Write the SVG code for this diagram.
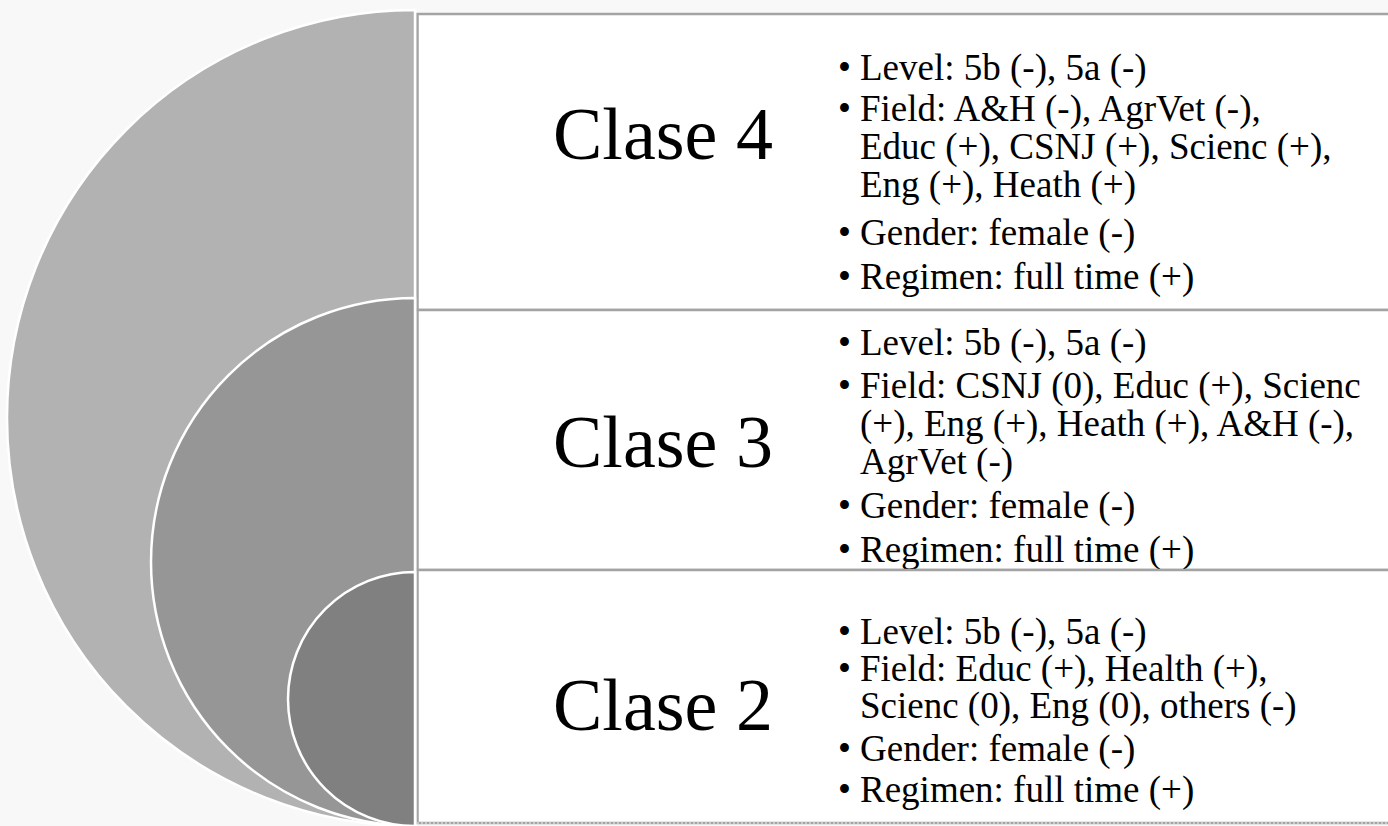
<svg xmlns="http://www.w3.org/2000/svg" width="1388" height="826" viewBox="0 0 1388 826">
<style>
.arc{stroke:#ffffff;stroke-width:2.5}
.box{fill:#ffffff;stroke:#a3a3a3;stroke-width:2.5}
.title{font-family:"Liberation Serif","Times New Roman",serif;font-size:74px;fill:#000}
.b{font-family:"Liberation Serif","Times New Roman",serif;font-size:37px;fill:#000}
</style>
<rect x="0" y="0" width="1388" height="826" fill="#f8f8f8"/>
<g id="row4">
<rect class="box" x="417.5" y="14" width="980" height="296"/>
<text class="title" x="553" y="159">Clase 4</text>
<text class="b">
<tspan x="838" y="80">•</tspan><tspan x="860" y="80">Level: 5b (-), 5a (-)</tspan>
<tspan x="838" y="121">•</tspan><tspan x="860" y="121">Field: A&amp;H (-), AgrVet (-),</tspan>
<tspan x="860" y="159">Educ (+), CSNJ (+), Scienc (+),</tspan>
<tspan x="860" y="197">Eng (+), Heath (+)</tspan>
<tspan x="838" y="245">•</tspan><tspan x="860" y="245">Gender: female (-)</tspan>
<tspan x="838" y="289">•</tspan><tspan x="860" y="289">Regimen: full time (+)</tspan>
</text>
</g>
<g id="row3">
<rect class="box" x="417.5" y="310" width="980" height="260"/>
<text class="title" x="553" y="467">Clase 3</text>
<text class="b">
<tspan x="838" y="355">•</tspan><tspan x="860" y="355">Level: 5b (-), 5a (-)</tspan>
<tspan x="838" y="398">•</tspan><tspan x="860" y="398">Field: CSNJ (0), Educ (+), Scienc</tspan>
<tspan x="860" y="436">(+), Eng (+), Heath (+), A&amp;H (-),</tspan>
<tspan x="860" y="474">AgrVet (-)</tspan>
<tspan x="838" y="518">•</tspan><tspan x="860" y="518">Gender: female (-)</tspan>
<tspan x="838" y="562">•</tspan><tspan x="860" y="562">Regimen: full time (+)</tspan>
</text>
</g>
<g id="row2">
<rect class="box" x="417.5" y="570" width="980" height="253" />
<line x1="417" y1="823" x2="1388" y2="823" stroke="#d6d6d6" stroke-width="1.5" stroke-dasharray="2 2"/>
<text class="title" x="553" y="730">Clase 2</text>
<text class="b">
<tspan x="838" y="644">•</tspan><tspan x="860" y="644">Level: 5b (-), 5a (-)</tspan>
<tspan x="838" y="681">•</tspan><tspan x="860" y="681">Field: Educ (+), Health (+),</tspan>
<tspan x="860" y="718">Scienc (0), Eng (0), others (-)</tspan>
<tspan x="838" y="761">•</tspan><tspan x="860" y="761">Gender: female (-)</tspan>
<tspan x="838" y="802">•</tspan><tspan x="860" y="802">Regimen: full time (+)</tspan>
</text>
</g>
<g id="arcs">
<path id="arc4" class="arc" fill="#b2b2b2" d="M415,10 A408,408 0 0 0 415,826 Z"/>
<path id="arc3" class="arc" fill="#969696" d="M415,298 A264,264 0 0 0 415,826 Z"/>
<path id="arc2" class="arc" fill="#808080" d="M415,572 A127,127 0 0 0 415,826 Z"/>
</g>
</svg>
